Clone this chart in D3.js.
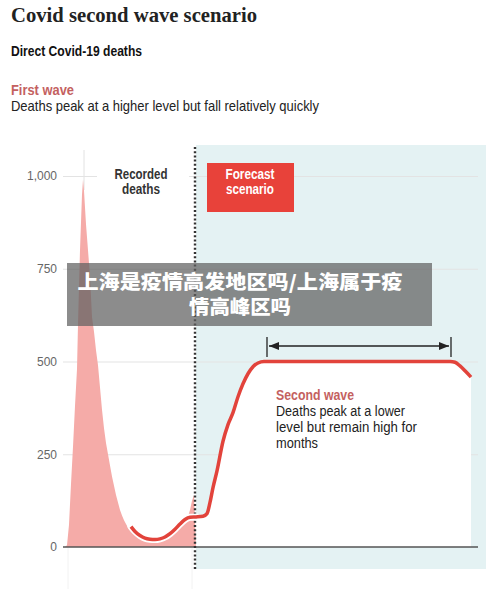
<!DOCTYPE html>
<html>
<head>
<meta charset="utf-8">
<script src="https://cdn.jsdelivr.net/npm/d3@7"></script>
<style>
  html, body { margin: 0; padding: 0; background: #fff; }
  svg { display: block; }
  .sans { font-family: "Liberation Sans Narrow", "Liberation Sans", sans-serif; }
</style>
</head>
<body>
<svg id="chart" width="500" height="589"></svg>
<script>
// ---------- data ----------
const yTicks = [0, 250, 500, 750, 1000];
const yTickLabels = ["0", "250", "500", "750", "1,000"];

// recorded daily deaths (day index, deaths)
const recordedDay = [2,4,6,8,10,12,14,15,17,19,20,21,23,25,27,29,31,33,35,37,39,41,43,45,47,49,51,53,55,57,59,61,63,65,67,69,71,73,75,77,79,81,83,85,87,89,91,93,95,97,99,101,103,105,107,109,111,113,115,117,119,121,123,125,127,129,131,133];
const recordedDeaths = [0,5,60,170,270,380,480,600,800,950,990,960,870,800,730,620,580,530,490,430,370,320,280,250,220,190,165,140,120,100,85,72,62,52,45,40,35,32,30,28,26,25,24,23,22,22,22,23,24,25,26,28,30,33,38,42,48,55,62,68,72,75,78,82,100,125,140,0];

// forecast scenario line (day index, deaths)
const forecastDay = [68,72,77,82,87,92,97,102,107,112,117,122,127,133,140,144,147,150,154,160,165,170,175,180,185,190,195,201,387,392,397,402,408];
const forecastDeaths = [55,42,31,24,21,20,22,27,36,48,62,74,80,81,83,90,120,160,205,285,330,362,405,440,467,486,496,500,500,498,488,475,458];

const dividerDay = 132;     // start of forecast
const plateauStart = 204, plateauEnd = 388; // arrow span

// ---------- layout ----------
const svg = d3.select("#chart");
const x = d3.scaleLinear().domain([0, 415]).range([63, 478]);
const y = d3.scaleLinear().domain([0, 1000]).range([547, 176]);

const PINK = "#f5aba8", RED = "#e2433b", BLUE = "#e4f2f3", LABELRED = "#c4615f";

// squeeze a text/tspan to a target width (condensed look of the original font)
function fit(sel, w) {
  sel.each(function () {
    const len = this.getComputedTextLength();
    if (len > 0) d3.select(this).attr("textLength", w).attr("lengthAdjust", "spacingAndGlyphs");
  });
  return sel;
}

// header texts
fit(svg.append("text").attr("x", 11).attr("y", 22)
  .style("font-family", "'Liberation Serif', 'DejaVu Serif', serif")
  .style("font-weight", "bold").style("font-size", "22px").attr("fill", "#222")
  .text("Covid second wave scenario"), 246);
fit(svg.append("text").attr("class", "sans").attr("x", 11).attr("y", 56)
  .style("font-weight", "bold").style("font-size", "14.5px").attr("fill", "#111")
  .text("Direct Covid-19 deaths"), 131);
fit(svg.append("text").attr("class", "sans").attr("x", 11).attr("y", 95)
  .style("font-weight", "bold").style("font-size", "15.5px").attr("fill", LABELRED)
  .text("First wave"), 63);
fit(svg.append("text").attr("class", "sans").attr("x", 11).attr("y", 111)
  .style("font-size", "15px").attr("fill", "#222")
  .text("Deaths peak at a higher level but fall relatively quickly"), 308);

// forecast band
svg.append("rect").attr("x", x(dividerDay) + 1).attr("y", 145)
  .attr("width", 486 - x(dividerDay) - 1).attr("height", 569 - 145).attr("fill", BLUE);

// faint vertical ticks
svg.append("line").attr("x1", x(21)).attr("x2", x(21)).attr("y1", 150).attr("y2", 190)
  .attr("stroke", "#e2e2e2").attr("stroke-width", 1);
[5, 129].forEach(d => svg.append("line").attr("x1", x(d)).attr("x2", x(d)).attr("y1", 548).attr("y2", 589)
  .attr("stroke", "#f2f2f2").attr("stroke-width", 1));

// gridlines
const yAxis = d3.axisLeft(y).tickValues(yTicks).tickFormat((d, i) => yTickLabels[i]).tickSize(-(478 - 63)).tickPadding(6);
const gy = svg.append("g").attr("transform", "translate(63,0)").call(yAxis);
gy.select(".domain").remove();
gy.selectAll(".tick line").attr("stroke", "#e3e3e3").attr("stroke-width", 1.2);
gy.selectAll(".tick text").attr("fill", "#666").style("font-family", "'Liberation Sans', sans-serif").style("font-size", "12px");
gy.selectAll(".tick").filter(d => d === 0).select("line").remove();

// recorded deaths area
const recData = recordedDay.map((d, i) => ({ d, v: recordedDeaths[i] }));
svg.append("path").datum(recData)
  .attr("d", d3.area().x(p => x(p.d)).y0(y(0)).y1(p => y(p.v)).curve(d3.curveLinear))
  .attr("fill", PINK);

// white area under forecast (in band)
const fcData = forecastDay.map((d, i) => ({ d, v: forecastDeaths[i] }));
const fcBand = fcData.filter(p => p.d >= dividerDay - 1);
svg.append("path").datum(fcBand)
  .attr("d", d3.area().x(p => x(Math.max(p.d, dividerDay + 1))).y0(y(0)).y1(p => y(p.v)).curve(d3.curveMonotoneX))
  .attr("fill", "#fff");

// baseline
svg.append("line").attr("x1", x(0)).attr("x2", 478).attr("y1", y(0)).attr("y2", y(0))
  .attr("stroke", "#555").attr("stroke-width", 1.5);

// divider dotted line
svg.append("line").attr("x1", x(dividerDay)).attr("x2", x(dividerDay)).attr("y1", 147).attr("y2", 569)
  .attr("stroke", "#333").attr("stroke-width", 2.4).attr("stroke-dasharray", "2 2.2");

// forecast line with white halo on the recorded part
const line = d3.line().x(p => x(p.d)).y(p => y(p.v)).curve(d3.curveMonotoneX);
svg.append("path").datum(fcData.filter(p => p.d <= dividerDay + 2)).attr("d", line)
  .attr("fill", "none").attr("stroke", "#fff").attr("stroke-width", 7).attr("stroke-linecap", "round");
svg.append("path").datum(fcData).attr("d", line)
  .attr("fill", "none").attr("stroke", RED).attr("stroke-width", 3.5).attr("stroke-linecap", "butt");

// plateau arrow
const defs = svg.append("defs");
defs.append("marker").attr("id", "ah").attr("viewBox", "0 0 10 10").attr("refX", 10).attr("refY", 5)
  .attr("markerWidth", 10).attr("markerHeight", 10).attr("markerUnits", "userSpaceOnUse").attr("orient", "auto-start-reverse")
  .append("path").attr("d", "M0,1 L10,5 L0,9 Z").attr("fill", "#222");
const ay = 346;
svg.append("line").attr("x1", x(plateauStart) + 2).attr("x2", x(plateauEnd) - 2).attr("y1", ay).attr("y2", ay)
  .attr("stroke", "#222").attr("stroke-width", 1.5)
  .attr("marker-start", "url(#ah)").attr("marker-end", "url(#ah)");
[plateauStart, plateauEnd].forEach(d => svg.append("line").attr("x1", x(d)).attr("x2", x(d))
  .attr("y1", 337).attr("y2", 357).attr("stroke", "#222").attr("stroke-width", 1.3));

// recorded deaths label
svg.append("rect").attr("x", 97).attr("y", 166).attr("width", 92).attr("height", 32).attr("fill", "#fff");
const rl = svg.append("text").attr("class", "sans").attr("text-anchor", "middle")
  .style("font-weight", "bold").style("font-size", "14px").attr("fill", "#333");
fit(rl.append("tspan").attr("x", 141).attr("y", 179).text("Recorded"), 53);
fit(rl.append("tspan").attr("x", 141).attr("y", 194).text("deaths"), 38);

// forecast box
svg.append("rect").attr("x", 207).attr("y", 163).attr("width", 87).attr("height", 49).attr("fill", "#e8423a");
const fl = svg.append("text").attr("class", "sans").attr("text-anchor", "middle")
  .style("font-weight", "bold").style("font-size", "14px").attr("fill", "#fff");
fit(fl.append("tspan").attr("x", 250).attr("y", 179).text("Forecast"), 49);
fit(fl.append("tspan").attr("x", 250).attr("y", 194).text("scenario"), 48);

// second wave annotation
const sw = svg.append("text").attr("class", "sans").style("font-size", "14px").attr("fill", "#222");
fit(sw.append("tspan").attr("x", 276).attr("y", 400).style("font-weight", "bold").style("font-size", "14.5px").attr("fill", LABELRED).text("Second wave"), 78);
fit(sw.append("tspan").attr("x", 276).attr("y", 416).text("Deaths peak at a lower"), 129);
fit(sw.append("tspan").attr("x", 276).attr("y", 432).text("level but remain high for"), 141);
fit(sw.append("tspan").attr("x", 276).attr("y", 448).text("months"), 42);

// caption overlay
svg.append("rect").attr("x", 67).attr("y", 263).attr("width", 365).attr("height", 63)
  .attr("fill", "rgba(95,95,95,0.72)");
const ov = svg.append("text").attr("text-anchor", "middle")
  .style("font-family", "'Noto Sans CJK SC', sans-serif").style("font-weight", "900").style("font-size", "19px").attr("fill", "#fff");
fit(ov.append("tspan").attr("x", 240).attr("y", 289).text("上海是疫情高发地区吗/上海属于疫"), 325);
fit(ov.append("tspan").attr("x", 240).attr("y", 314).text("情高峰区吗"), 102);
</script>
</body>
</html>
